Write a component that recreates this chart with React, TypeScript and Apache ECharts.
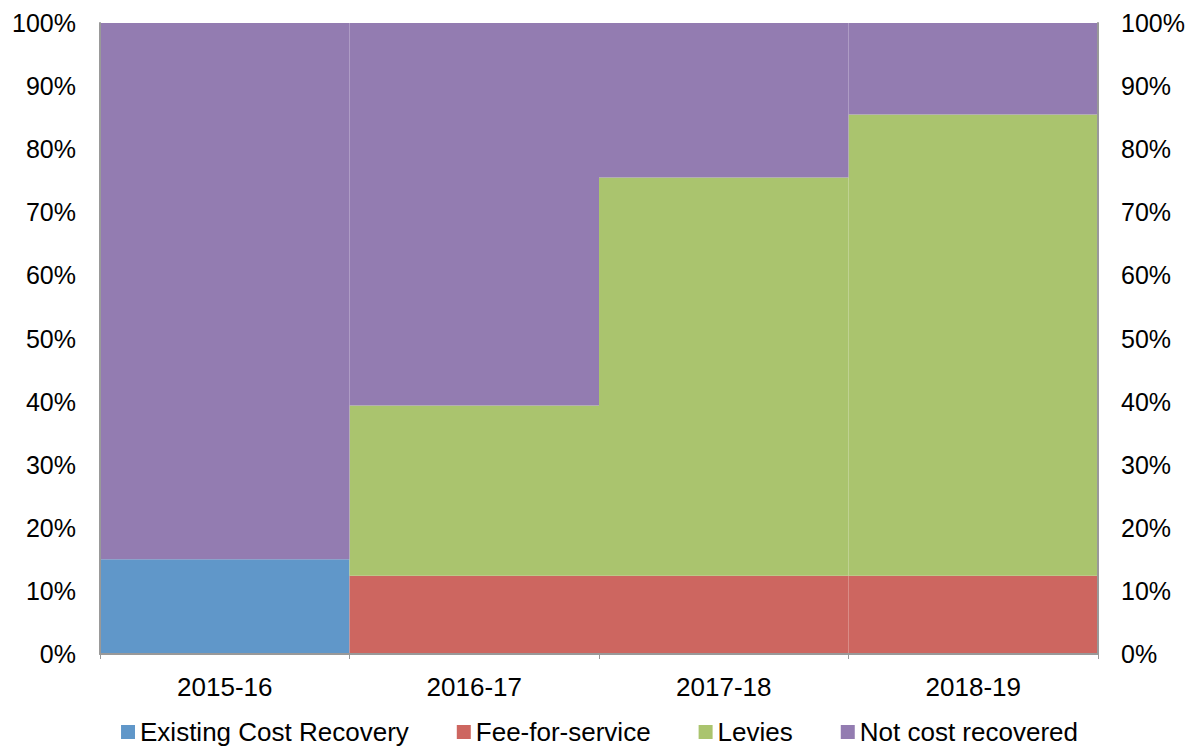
import React, { useEffect, useRef } from "react";
import * as echarts from "echarts";

const categories = ["2015-16", "2016-17", "2017-18", "2018-19"];
const existingCostRecovery = [15, 0, 0, 0];
const feeForService = [0, 12.4, 12.4, 12.4];
const levies = [0, 27, 63.1, 73.1];
const notCostRecovered = [85, 60.6, 24.5, 14.5];
const seriesNames = ["Existing Cost Recovery", "Fee-for-service", "Levies", "Not cost recovered"];
const colors = ["#6097C9", "#CD6660", "#AAC46E", "#937CB1"];

export default function App() {
  const ref = useRef<HTMLDivElement>(null);
  useEffect(() => {
    if (!ref.current) return;
    const chart = echarts.init(ref.current, null, { renderer: "svg" });
    const font = "Liberation Sans, Arial, sans-serif";
    const data = [existingCostRecovery, feeForService, levies, notCostRecovered];
    const yAxisBase = {
      type: "value" as const,
      min: 0,
      max: 100,
      interval: 10,
      z: 10,
      axisLabel: { formatter: "{value}%", fontSize: 25, color: "#000", fontFamily: font, margin: 24 },
      axisLine: { show: true, onZero: false, lineStyle: { color: "#999", width: 2 } },
      axisTick: { show: false },
      splitLine: { show: false },
    };
    chart.setOption({
      animation: false,
      color: colors,
      textStyle: { fontFamily: font },
      grid: { left: 100, right: 101, top: 23, bottom: 93 },
      legend: {
        top: 719,
        left: "center",
        padding: 0,
        itemWidth: 14,
        itemHeight: 14,
        itemGap: 48,
        icon: "rect",
        textStyle: { fontSize: 26, color: "#000", fontFamily: font },
        data: seriesNames,
      },
      xAxis: {
        type: "category",
        data: categories,
        z: 10,
        axisLine: { show: true, lineStyle: { color: "#999", width: 2 } },
        axisTick: { show: true, alignWithLabel: false, length: 5, lineStyle: { color: "#999" } },
        axisLabel: { fontSize: 26, color: "#000", fontFamily: font, margin: 20 },
      },
      yAxis: [
        { ...yAxisBase, position: "left" },
        { ...yAxisBase, position: "right", axisLabel: { ...yAxisBase.axisLabel, margin: 23 } },
      ],
      series: seriesNames.map((name, i) => ({
        name,
        type: "bar",
        stack: "total",
        barCategoryGap: "0%",
        data: data[i],
        itemStyle: { color: colors[i] },
      })),
    });
    return () => chart.dispose();
  }, []);
  return (
    <div
      ref={ref}
      style={{ position: "fixed", left: 0, top: 0, width: 1199, height: 747, background: "#fff" }}
    />
  );
}
